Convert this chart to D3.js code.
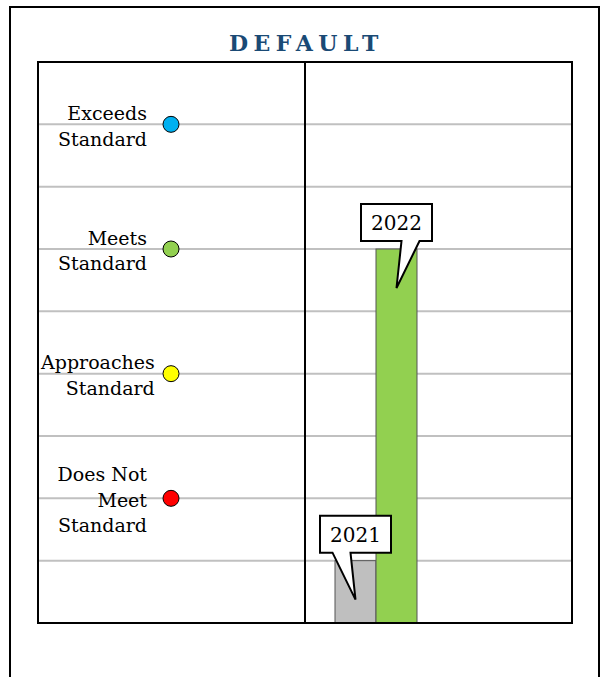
<!DOCTYPE html>
<html><head><meta charset="utf-8">
<script src="https://cdn.jsdelivr.net/npm/d3@7"></script>
<style>html,body{margin:0;padding:0;background:#fff;}</style>
</head><body><svg id="c" width="600" height="677"></svg>
<script>
const title = "DEFAULT";
const years = ["2021", "2022"];
const values = [1, 6];
const barColors = ["#bfbfbf", "#92d050"];
const levelLabels = [["Does Not", "Meet", "Standard"], ["Approaches", "Standard"], ["Meets", "Standard"], ["Exceeds", "Standard"]];
const levelValues = [2, 4, 6, 8];
const levelColors = ["#ff0000", "#ffff00", "#92d050", "#00b0f0"];
const gridTicks = [1, 2, 3, 4, 5, 6, 7, 8];

const svg = d3.select("#c");
const font = "'DejaVu Serif', serif";
const L = 38, R = 572, T = 62, B = 623, DIV = 305;

// outer frame
svg.append("rect").attr("x", 10).attr("y", 7).attr("width", 589).attr("height", 700)
  .attr("fill", "none").attr("stroke", "#000").attr("stroke-width", 2);

// title
svg.append("text").attr("x", 304 + 2.5).attr("y", 51).attr("text-anchor", "middle")
  .attr("font-family", font).attr("font-weight", "bold").attr("font-size", 22)
  .attr("letter-spacing", 5.5).attr("fill", "#1a4a75").text(title);

const y = d3.scaleLinear().domain([0, 9]).range([B, T]);
const x = d3.scaleBand().domain(years).range([DIV + 30, DIV + 112]).padding(0);

// gridlines
svg.append("g").selectAll("line").data(gridTicks).join("line")
  .attr("x1", L).attr("x2", R).attr("y1", d => y(d)).attr("y2", d => y(d))
  .attr("stroke", "#c0c0c0").attr("stroke-width", 2);

// bars
svg.append("g").selectAll("rect").data(years).join("rect")
  .attr("x", d => x(d)).attr("width", x.bandwidth())
  .attr("y", (d, i) => y(values[i])).attr("height", (d, i) => y(0) - y(values[i]))
  .attr("fill", (d, i) => barColors[i]).attr("stroke", "#555").attr("stroke-width", 1);

// frame & divider
svg.append("rect").attr("x", L).attr("y", T).attr("width", R - L).attr("height", B - T)
  .attr("fill", "none").attr("stroke", "#000").attr("stroke-width", 2);
svg.append("line").attr("x1", DIV).attr("x2", DIV).attr("y1", T).attr("y2", B)
  .attr("stroke", "#000").attr("stroke-width", 2);

// level dots and labels
const lg = svg.append("g");
levelValues.forEach((v, i) => {
  lg.append("circle").attr("cx", 171).attr("cy", y(v)).attr("r", 8)
    .attr("fill", levelColors[i]).attr("stroke", "#000").attr("stroke-width", 1);
  const lines = levelLabels[i];
  const t = lg.append("text").attr("font-family", font).attr("font-size", 19).attr("fill", "#000")
    .attr("text-anchor", "end");
  const lh = 25.5;
  const y0 = y(v) - (lines.length - 1) * lh / 2 + 8.5;
  lines.forEach((s, j) => {
    t.append("tspan").attr("x", 147).attr("y", y0 + j * lh).text(s);
  });
  const w = t.node().getBBox().width;
  const ax = Math.max(147, L + 2 + w);
  t.selectAll("tspan").attr("x", ax);
});

// callouts
const cg = svg.append("g");
years.forEach((yr, i) => {
  const cx = x(yr) + x.bandwidth() / 2;
  const top = y(values[i]);
  const bw = 71, bh = 37;
  const bx = cx - bw / 2, by = top - 8 - bh;
  const dir = i === 0 ? -1 : 1;
  const b1 = cx + dir * 5, b2 = cx + dir * 23;
  const tipX = cx, tipY = top + 39;
  const pts = dir < 0
    ? [[bx, by], [bx + bw, by], [bx + bw, by + bh], [b1, by + bh], [tipX, tipY], [b2, by + bh], [bx, by + bh]]
    : [[bx, by], [bx + bw, by], [bx + bw, by + bh], [b2, by + bh], [tipX, tipY], [b1, by + bh], [bx, by + bh]];
  cg.append("path").attr("d", d3.line()(pts) + "Z")
    .attr("fill", "#fff").attr("stroke", "#000").attr("stroke-width", 2).attr("stroke-linejoin", "miter");
  cg.append("text").attr("x", cx).attr("y", by + bh / 2 + 7.5).attr("text-anchor", "middle")
    .attr("font-family", font).attr("font-size", 20).attr("fill", "#000").text(yr);
});
</script>
</body></html>
